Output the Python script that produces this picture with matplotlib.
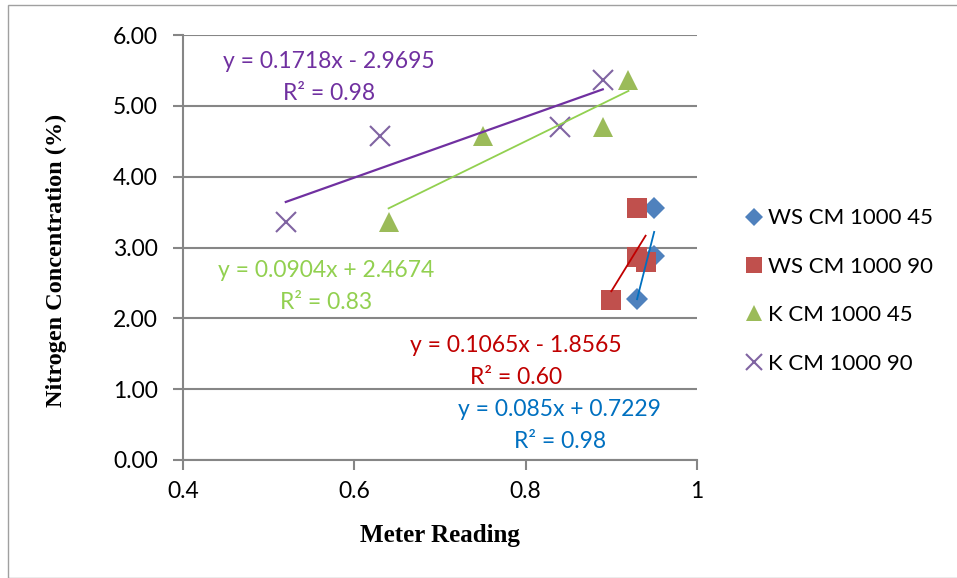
import numpy as np
import matplotlib.pyplot as plt
from matplotlib.patches import Rectangle

# meter reading / nitrogen concentration
ws45_x = [0.95, 0.95, 0.93]
ws45_y = [3.56, 2.88, 2.27]
ws90_x = [0.93, 0.93, 0.94, 0.90]
ws90_y = [3.56, 2.87, 2.80, 2.26]
k45_x = [0.92, 0.89, 0.75, 0.64]
k45_y = [5.36, 4.70, 4.58, 3.36]
k90_x = [0.89, 0.63, 0.84, 0.52]
k90_y = [5.37, 4.58, 4.70, 3.36]

labels = ["WS CM 1000 45", "WS CM 1000 90", "K CM 1000 45", "K CM 1000 90"]
equations = [
    ("y = 0.085x + 0.7229", "R\u00b2 = 0.98"),
    ("y = 0.1065x - 1.8565", "R\u00b2 = 0.60"),
    ("y = 0.0904x + 2.4674", "R\u00b2 = 0.83"),
    ("y = 0.1718x - 2.9695", "R\u00b2 = 0.98"),
]
eq_pos = [(0.84, 0.71), (0.789, 1.61), (0.567, 2.68), (0.57, 5.62)]

series = [(ws45_x, ws45_y), (ws90_x, ws90_y), (k45_x, k45_y), (k90_x, k90_y)]
markers = ["D", "s", "^", "x"]
msizes = [11, 14, 14, 14]
mcolors = ["#4F81BD", "#C0504D", "#9BBB59", "#8064A2"]
lcolors = ["#0070C0", "#C00000", "#92D050", "#7030A0"]
lwidths = [1.3, 1.3, 1.3, 1.6]

fig = plt.figure(figsize=(9.57, 5.78), dpi=100)
fig.patches.append(Rectangle((8 / 957, 0), 1, 1 - 5 / 578, transform=fig.transFigure,
                             fill=False, edgecolor="#A0A0A0", linewidth=1))
ax = fig.add_axes([183 / 957, 1 - 460 / 578, 514 / 957, 425 / 578])

for i, (xs, ys) in enumerate(series):
    if markers[i] == "x":
        ax.plot(xs, ys, linestyle="none", marker="x", ms=msizes[i], mew=1.5,
                color=mcolors[i], label=labels[i], zorder=3)
    else:
        ax.plot(xs, ys, linestyle="none", marker=markers[i], ms=msizes[i],
                mew=0, color=mcolors[i], label=labels[i], zorder=3)
    # linear trendline over the data range
    k, b = np.polyfit(xs, ys, 1)
    xl = np.array([min(xs), max(xs)])
    ax.plot(xl, k * xl + b, color=lcolors[i], lw=lwidths[i], zorder=4)
    ex, ey = eq_pos[i]
    ax.text(ex, ey, equations[i][0], color=lcolors[i], fontsize=16.5,
            family="Lato", ha="center", va="center")
    ax.text(ex, ey - 0.45, equations[i][1], color=lcolors[i], fontsize=16.5,
            family="Lato", ha="center", va="center")

ax.set_xlim(0.4, 1.0)
ax.set_ylim(0, 6)
ax.set_xticks([0.4, 0.6, 0.8, 1.0])
ax.set_xticklabels(["0.4", "0.6", "0.8", "1"])
ax.set_yticks(np.arange(0, 7, 1))
ax.set_yticklabels([f"{v:.2f}" for v in np.arange(0, 7, 1)])
ax.grid(axis="y", color="#868686", lw=1.5)
ax.set_axisbelow(True)
for s in ["top", "right"]:
    ax.spines[s].set_visible(False)
for s in ["left", "bottom"]:
    ax.spines[s].set_color("#868686")
    ax.spines[s].set_linewidth(1.5)
ax.tick_params(axis="both", direction="out", length=7, width=1.5, color="#868686",
               labelsize=16.5)
ax.tick_params(axis="x", pad=8)
ax.tick_params(axis="y", pad=11)
for t in ax.get_xticklabels() + ax.get_yticklabels():
    t.set_family("Lato")

ax.set_xlabel("Meter Reading", family="Liberation Serif", fontweight="bold",
              fontsize=18, labelpad=16)
ax.set_ylabel("Nitrogen Concentration (%)", family="Liberation Serif",
              fontweight="bold", fontsize=17.5)
ax.yaxis.set_label_coords(-0.225, 0.47)

leg = ax.legend(loc="center left", bbox_to_anchor=(722 / 957, 1 - 291 / 578),
                bbox_transform=fig.transFigure, frameon=False,
                prop={"family": "Lato", "size": 16}, handletextpad=0.05,
                handlelength=1.1, labelspacing=1.28, markerscale=0.8)

fig.savefig("out.png", dpi=100)
